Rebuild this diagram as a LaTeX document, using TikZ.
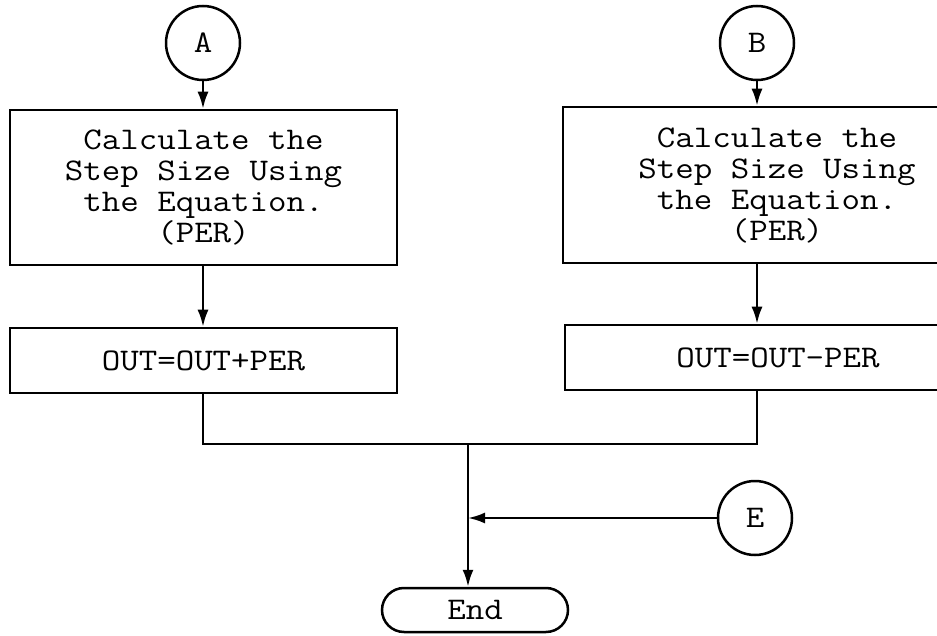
\documentclass[tikz,border=0pt]{standalone}
\usepackage{fontspec}
\setmonofont{Latin Modern Mono}[FakeStretch=1.14]
\usetikzlibrary{arrows.meta,shapes.misc}
\tikzset{
  every node/.style={font=\ttfamily\fontsize{31.5}{31}\selectfont},
  procbox/.style={draw, line width=2.5pt, rectangle, align=center, inner sep=0pt},
  conn/.style={draw, circle, line width=2.5pt, minimum size=74pt, inner sep=0pt},
  term/.style={draw, rounded rectangle, line width=2.5pt, minimum width=186pt, minimum height=44pt, inner sep=0pt},
  flow/.style={line width=2.4pt},
  arr/.style={flow, -{Latex[length=17pt,width=11pt]}}
}
\begin{document}
\begin{tikzpicture}[x=1pt,y=-1pt]
\useasboundingbox (0,0) rectangle (937,636);
\clip (0,0) rectangle (937,636);
\fill[white] (0,0) rectangle (937,636);
\node[conn] (cA) at (203,43) {A};
\node[conn] (cB) at (757,43) {B};
\node[conn] (cE) at (755,518) {E};
\node[procbox, minimum width=387pt, minimum height=155pt] (bA) at (203.5,187.5)
  {Calculate the\\Step Size Using\\the Equation.\\(PER)};
\node[procbox, minimum width=428pt, minimum height=156pt] (bB) at (777,185)
  {Calculate the\\Step Size Using\\the Equation.\\(PER)};
\node[procbox, minimum width=387pt, minimum height=65pt] (oA) at (203.5,360.5) {OUT=OUT+PER};
\node[procbox, minimum width=426pt, minimum height=65pt] (oB) at (778,357.5) {OUT=OUT-PER};
\node[term] (end) at (475,610) {End};
\coordinate (j) at (468,444);
\draw[arr] (cA.south) -- (cA.south |- bA.north);
\draw[arr] (cA.south |- bA.south) -- (cA.south |- oA.north);
\draw[arr] (cB.south) -- (cB.south |- bB.north);
\draw[arr] (cB.south |- bB.south) -- (cB.south |- oB.north);
\draw[flow] (cA.south |- oA.south) |- (j);
\draw[flow] (cB.south |- oB.south) |- (j);
\draw[arr] (j) -- (j |- end.north);
\draw[arr] (cE.west) -- (cE.west -| j);
\end{tikzpicture}
\end{document}
